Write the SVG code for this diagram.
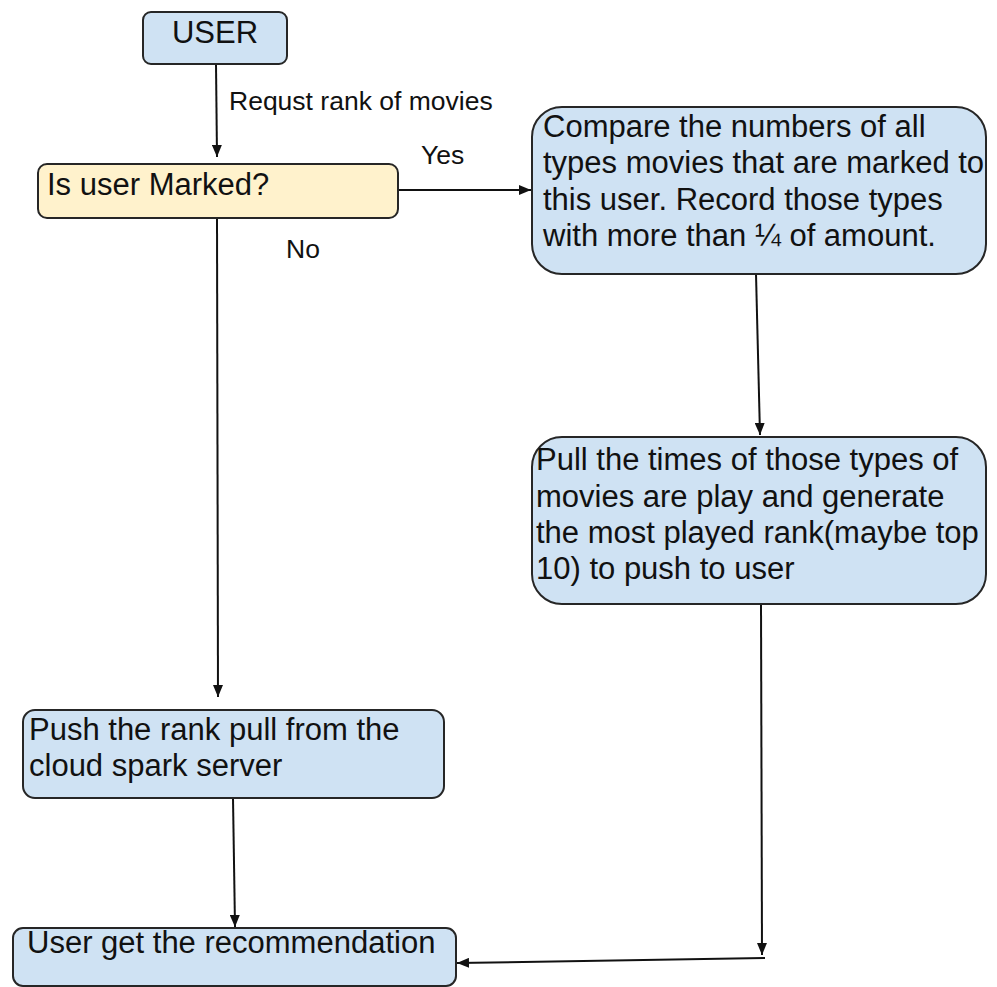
<svg xmlns="http://www.w3.org/2000/svg" width="997" height="987" viewBox="0 0 997 987">
<style>
.box{fill:#cfe2f3;stroke:#262626;stroke-width:2}
.dec{fill:#fff2cc;stroke:#262626;stroke-width:2}
.t{font-family:"Liberation Sans",Arial,sans-serif;font-size:31px;fill:#111}
.lbl{font-family:"Liberation Sans",Arial,sans-serif;font-size:26.5px;fill:#111}
.c{fill:none;stroke:#111;stroke-width:2}
</style>
<defs>
<marker id="ah" viewBox="0 0 12 10" refX="12" refY="5" markerWidth="6" markerHeight="5" orient="auto" markerUnits="strokeWidth">
<path d="M0,0 L12,5 L0,10 Z" fill="#111"/>
</marker>
</defs>
<g id="connectors">
<line class="c" x1="216" y1="64" x2="217" y2="157" marker-end="url(#ah)"/>
<line class="c" x1="398" y1="190" x2="531" y2="190" marker-end="url(#ah)"/>
<line class="c" x1="217" y1="218" x2="218" y2="697" marker-end="url(#ah)"/>
<line class="c" x1="756" y1="274" x2="760" y2="435" marker-end="url(#ah)"/>
<line class="c" x1="761" y1="604" x2="762" y2="955" marker-end="url(#ah)"/>
<line class="c" x1="765" y1="958" x2="457" y2="963" marker-end="url(#ah)"/>
<line class="c" x1="233" y1="798" x2="235" y2="927" marker-end="url(#ah)"/>
<text class="lbl" x="229" y="110">Requst rank of movies</text>
<text class="lbl" x="421" y="164">Yes</text>
<text class="lbl" x="286" y="258">No</text>
</g>
<g id="user">
<rect class="box" x="143" y="12" width="144" height="52" rx="8"/>
<text class="t" x="215" y="43" text-anchor="middle">USER</text>
</g>
<g id="marked">
<rect class="dec" x="38" y="164" width="360" height="54" rx="9"/>
<text class="t" x="47" y="195">Is user Marked?</text>
</g>
<g id="compare">
<rect class="box" x="532" y="107" width="454" height="167" rx="30"/>
<text class="t" x="543" y="137">Compare the numbers of all</text>
<text class="t" x="543" y="173">types movies that are marked to</text>
<text class="t" x="543" y="210">this user. Record those types</text>
<text class="t" x="543" y="246">with more than ¼ of amount.</text>
</g>
<g id="pull">
<rect class="box" x="532" y="437" width="454" height="167" rx="30"/>
<text class="t" x="536" y="470">Pull the times of those types of</text>
<text class="t" x="536" y="507">movies are play and generate</text>
<text class="t" x="536" y="543">the most played rank(maybe top</text>
<text class="t" x="536" y="579">10) to push to user</text>
</g>
<g id="push">
<rect class="box" x="23" y="710" width="421" height="88" rx="12"/>
<text class="t" x="29" y="740">Push the rank pull from the</text>
<text class="t" x="29" y="776">cloud spark server</text>
</g>
<g id="recommend">
<rect class="box" x="13" y="928" width="443" height="58" rx="10"/>
<text class="t" x="27" y="953">User get the recommendation</text>
</g>
</svg>
